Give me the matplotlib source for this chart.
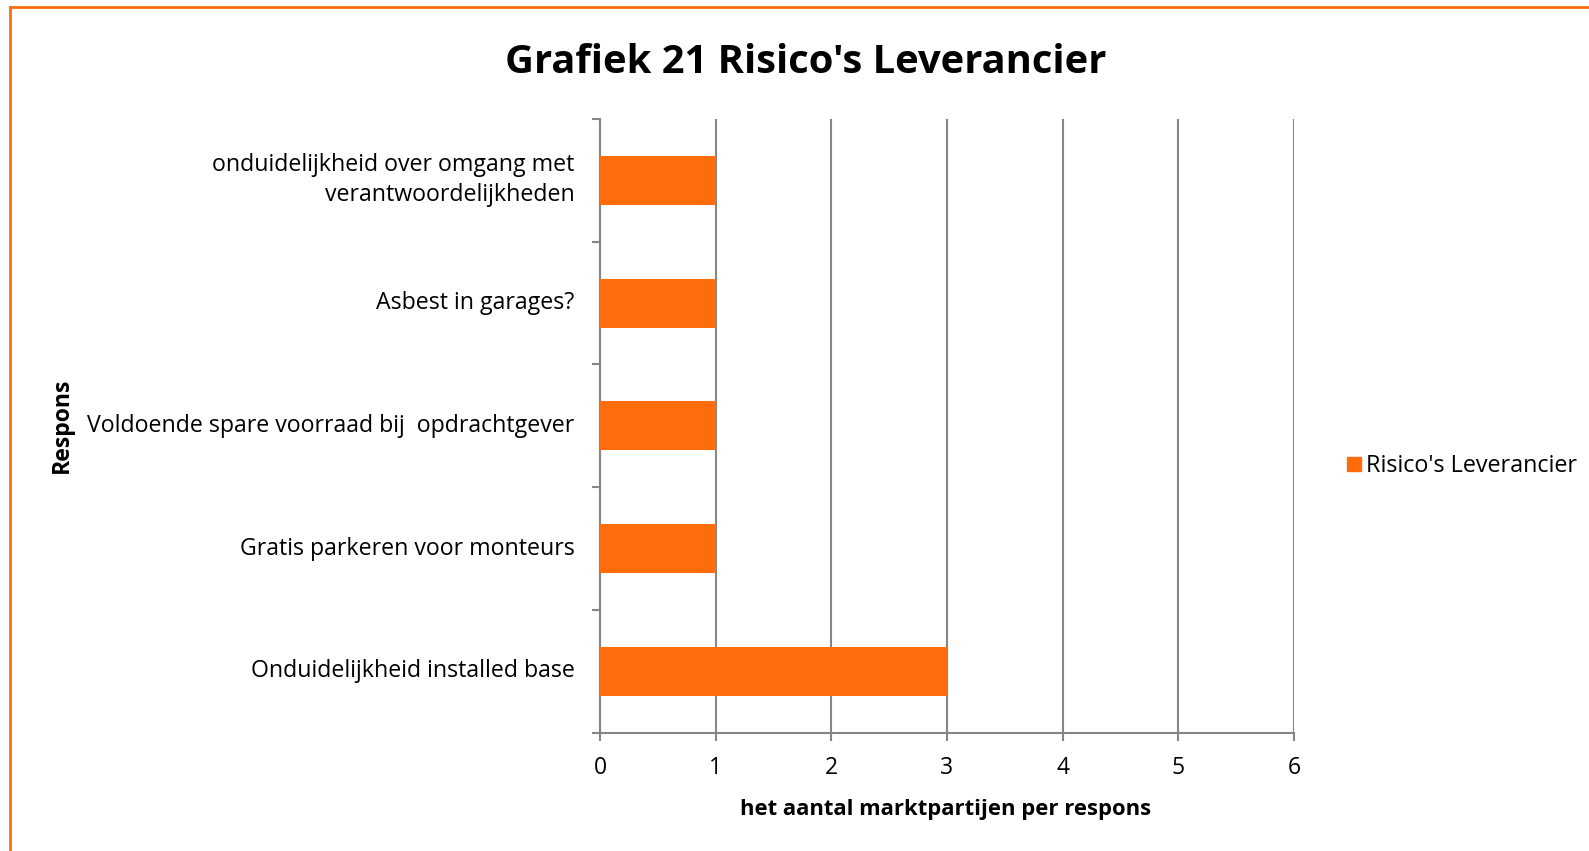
import matplotlib
matplotlib.use("Agg")
import matplotlib.pyplot as plt
from matplotlib.lines import Line2D

plt.rcParams["font.family"] = ["Open Sans", "DejaVu Sans"]

ORANGE = "#FF6C0C"
GREY = "#868686"

# data, bottom to top as drawn
categories = [
    "Onduidelijkheid installed base",
    "Gratis parkeren voor monteurs",
    "Voldoende spare voorraad bij  opdrachtgever",
    "Asbest in garages?",
    "onduidelijkheid over omgang met\nverantwoordelijkheden",
]
counts = [3, 1, 1, 1, 1]
x_ticks = [0, 1, 2, 3, 4, 5, 6]
series_name = "Risico's Leverancier"

fig = plt.figure(figsize=(15.89, 8.51), dpi=100)
ax = fig.add_axes([0.3776, 0.1390, 0.4367, 0.7212])

pos = list(range(len(categories)))
ax.barh(pos, counts, height=0.4, color=ORANGE, zorder=3, label=series_name)

ax.set_xlim(0, 6)
ax.set_ylim(-0.5, len(categories) - 0.5)
ax.set_xticks(x_ticks)
ax.set_xticklabels([str(t) for t in x_ticks], fontsize=16.5)
ax.xaxis.grid(True, color=GREY, linewidth=1.5, zorder=0)

# category labels as text, ticks at boundaries
ax.set_yticks([p - 0.5 for p in pos] + [len(categories) - 0.5])
ax.set_yticklabels([])
for p, c in zip(pos, categories):
    ax.text(-0.22, p, c, ha="right", va="center", fontsize=16.7,
            linespacing=1.35, transform=ax.transData)

for side in ["top", "right"]:
    ax.spines[side].set_visible(False)
for side in ["left", "bottom"]:
    ax.spines[side].set_color(GREY)
    ax.spines[side].set_linewidth(1.5)
ax.tick_params(axis="both", direction="out", length=6, width=1.5, color=GREY)
ax.tick_params(axis="x", pad=11)

fig.text(0.507, 0.926, "Grafiek 21 Risico's Leverancier", ha="center", va="center",
         fontsize=28.7, fontweight="bold")
fig.text(0.595, 0.049, "het aantal marktpartijen per respons", ha="center", va="center",
         fontsize=15.8, fontweight="bold")
fig.text(0.039, 0.50, "Respons", ha="center", va="center", rotation=90,
         fontsize=16.6, fontweight="bold")

handle = Line2D([], [], marker="s", linestyle="none", markersize=10,
                markerfacecolor=ORANGE, markeredgecolor=ORANGE)
fig.legend([handle], [series_name], loc="center left", bbox_to_anchor=(0.834, 0.452),
           frameon=False, fontsize=16.8, handletextpad=0.15, handlelength=0.7)

# orange frame (top and left edges visible)
fig.add_artist(Line2D([0.006, 1.0], [0.992, 0.992], transform=fig.transFigure,
                      color=ORANGE, linewidth=2))
fig.add_artist(Line2D([0.006, 0.006], [0.0, 0.992], transform=fig.transFigure,
                      color=ORANGE, linewidth=2))

fig.savefig("out.png", dpi=100, facecolor="white")
